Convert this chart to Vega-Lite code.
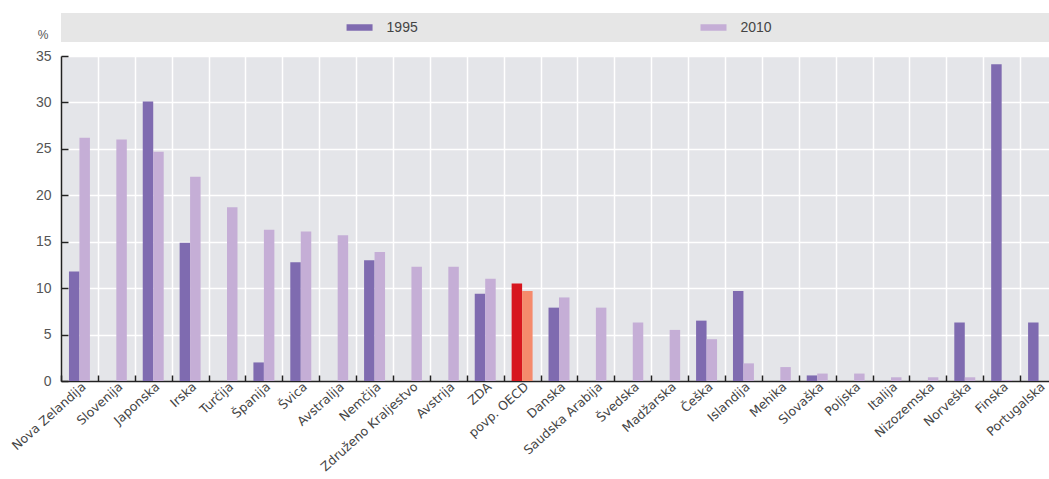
{
  "$schema": "https://vega.github.io/schema/vega-lite/v6.json",
  "padding": {"left": 9, "top": 13, "right": 0, "bottom": 0},
  "background": "white",
  "config": {
    "font": "Liberation Sans",
    "view": {"stroke": null}
  },
  "datasets": {
    "legend": [{"year": "1995"}, {"year": "2010"}],
    "values": [
      {"country": "Nova Zelandija", "year": "1995", "value": 11.8},
      {"country": "Nova Zelandija", "year": "2010", "value": 26.2},
      {"country": "Slovenija", "year": "2010", "value": 26.0},
      {"country": "Japonska", "year": "1995", "value": 30.1},
      {"country": "Japonska", "year": "2010", "value": 24.7},
      {"country": "Irska", "year": "1995", "value": 14.9},
      {"country": "Irska", "year": "2010", "value": 22.0},
      {"country": "Turčija", "year": "2010", "value": 18.7},
      {"country": "Španija", "year": "1995", "value": 2.0},
      {"country": "Španija", "year": "2010", "value": 16.3},
      {"country": "Švica", "year": "1995", "value": 12.8},
      {"country": "Švica", "year": "2010", "value": 16.1},
      {"country": "Avstralija", "year": "2010", "value": 15.7},
      {"country": "Nemčija", "year": "1995", "value": 13.0},
      {"country": "Nemčija", "year": "2010", "value": 13.9},
      {"country": "Združeno Kraljestvo", "year": "2010", "value": 12.3},
      {"country": "Avstrija", "year": "2010", "value": 12.3},
      {"country": "ZDA", "year": "1995", "value": 9.4},
      {"country": "ZDA", "year": "2010", "value": 11.0},
      {"country": "povp. OECD", "year": "1995", "value": 10.5},
      {"country": "povp. OECD", "year": "2010", "value": 9.7},
      {"country": "Danska", "year": "1995", "value": 7.9},
      {"country": "Danska", "year": "2010", "value": 9.0},
      {"country": "Saudska Arabija", "year": "2010", "value": 7.9},
      {"country": "Švedska", "year": "2010", "value": 6.3},
      {"country": "Madžarska", "year": "2010", "value": 5.5},
      {"country": "Češka", "year": "1995", "value": 6.5},
      {"country": "Češka", "year": "2010", "value": 4.5},
      {"country": "Islandija", "year": "1995", "value": 9.7},
      {"country": "Islandija", "year": "2010", "value": 1.9},
      {"country": "Mehika", "year": "2010", "value": 1.5},
      {"country": "Slovaška", "year": "1995", "value": 0.6},
      {"country": "Slovaška", "year": "2010", "value": 0.8},
      {"country": "Poljska", "year": "2010", "value": 0.8},
      {"country": "Italija", "year": "2010", "value": 0.4},
      {"country": "Nizozemska", "year": "2010", "value": 0.4},
      {"country": "Norveška", "year": "1995", "value": 6.3},
      {"country": "Norveška", "year": "2010", "value": 0.4},
      {"country": "Finska", "year": "1995", "value": 34.1},
      {"country": "Finska", "year": "2010", "value": 0.1},
      {"country": "Portugalska", "year": "1995", "value": 6.3}
    ]
  },
  "bounds": "flush",
  "spacing": 14,
  "resolve": {"scale": {"x": "independent", "color": "shared"}},
  "vconcat": [
    {
      "width": 996,
      "height": 29,
      "view": {"fill": "#e6e6e6", "stroke": null},
      "title": {
        "text": "%",
        "orient": "left",
        "angle": 0,
        "anchor": "start",
        "align": "right",
        "baseline": "bottom",
        "offset": 2,
        "fontSize": 12,
        "fontWeight": "normal",
        "color": "#555"
      },
      "data": {"name": "legend"},
      "encoding": {
        "x": {
          "field": "year",
          "type": "nominal",
          "scale": {"type": "point", "padding": 0.907, "align": 0.465},
          "axis": null
        }
      },
      "layer": [
        {
          "mark": {
            "type": "point",
            "shape": "M-1,-0.25H1V0.25H-1Z",
            "size": 676,
            "filled": true,
            "opacity": 1
          },
          "encoding": {
            "color": {"field": "year", "type": "nominal", "legend": null}
          }
        },
        {
          "mark": {
            "type": "text",
            "align": "left",
            "baseline": "middle",
            "dx": 27,
            "fontSize": 14,
            "color": "#444"
          },
          "encoding": {"text": {"field": "year"}}
        }
      ]
    },
    {
      "width": 996,
      "height": 325,
      "view": {"fill": "#e4e5e9", "stroke": null},
      "data": {"name": "values"},
      "mark": {"type": "bar"},
      "encoding": {
        "x": {
          "field": "country",
          "type": "nominal",
          "sort": null,
          "scale": {"paddingInner": 0, "paddingOuter": 0},
          "axis": {
            "title": null,
            "labelAngle": -42,
            "tickBand": "extent",
            "grid": true,
            "gridColor": "white",
            "gridWidth": 1.5,
            "domainColor": "#222",
            "domainWidth": 1.5,
            "tickColor": "#222",
            "tickWidth": 1.5,
            "tickSize": -6,
            "labelFont": "DejaVu Sans",
            "labelFontSize": 12.5,
            "labelColor": "#444",
            "labelPadding": 5
          }
        },
        "xOffset": {
          "field": "year",
          "type": "nominal",
          "scale": {"paddingOuter": 0.76, "paddingInner": 0}
        },
        "y": {
          "field": "value",
          "type": "quantitative",
          "scale": {"domain": [0, 35], "nice": false},
          "axis": {
            "title": null,
            "values": [0, 5, 10, 15, 20, 25, 30, 35],
            "grid": true,
            "gridColor": "white",
            "gridWidth": 1.5,
            "domainColor": "#222",
            "domainWidth": 1.5,
            "tickColor": "#222",
            "tickWidth": 1.5,
            "tickSize": -7,
            "labelPadding": 17,
            "labelFontSize": 14,
            "labelColor": "#555"
          }
        },
        "color": {
          "condition": [
            {"test": "datum.country === 'povp. OECD' && datum.year === '1995'", "value": "#d7161f"},
            {"test": "datum.country === 'povp. OECD' && datum.year === '2010'", "value": "#f58a6c"}
          ],
          "field": "year",
          "type": "nominal",
          "scale": {"domain": ["1995", "2010"], "range": ["#7f6bb0", "#c5aed6"]},
          "legend": null
        }
      }
    }
  ]
}
